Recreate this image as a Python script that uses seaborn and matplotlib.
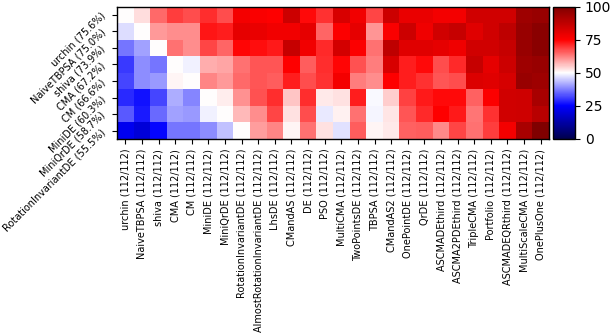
import numpy as np
import pandas as pd
import matplotlib
matplotlib.use("Agg")
import matplotlib.pyplot as plt
import matplotlib.transforms as mtransforms
import seaborn as sns

row_names = ["urchin (75.6%)", "NaiveTBPSA (75.0%)", "shiva (73.9%)", "CMA (67.2%)",
             "CM (66.6%)", "MiniDE (60.3%)", "MiniQrDE (58.7%)", "RotationInvariantDE (55.5%)"]
col_algos = ["urchin", "NaiveTBPSA", "shiva", "CMA", "CM", "MiniDE", "MiniQrDE",
             "RotationInvariantDE", "AlmostRotationInvariantDE", "LhsDE", "CMandAS", "DE",
             "PSO", "MultiCMA", "TwoPointsDE", "TBPSA", "CMandAS2", "OnePointDE", "QrDE",
             "ASCMADEthird", "ASCMA2PDEthird", "TripleCMA", "Portfolio", "ASCMADEQRthird",
             "MultiScaleCMA", "OnePlusOne"]
col_counts = ["(112/112)"] * len(col_algos)

urchin = [50, 53.5, 64.5, 69, 67.5, 70.5, 67.5, 77, 76, 75, 85, 74, 70, 82.5, 77.5, 68, 85, 79, 79, 77, 77, 84, 84, 84, 94, 95]
naivetbpsa = [46.7, 50, 60, 61, 61, 73, 72, 80, 79, 77.5, 77.5, 80, 65, 75.5, 80, 60.5, 76, 85, 78, 84, 86, 81, 84, 87.5, 95, 98]
shiva = [36.7, 40.7, 50, 63.7, 61, 68, 65, 74.5, 73.5, 72.5, 86, 77.5, 71, 83.5, 75.5, 63.7, 87.5, 81, 81, 80, 78, 84, 84, 86, 95, 98]
cma = [30.5, 38.7, 36.7, 50, 48.5, 58, 58.7, 63.7, 66.7, 66.7, 75, 66, 70.7, 74.5, 67, 62.5, 82.5, 72, 74, 67.5, 71, 86, 80, 85, 94, 95]
cm = [31.7, 38.7, 40, 51, 50, 62, 60, 64.5, 66.7, 66, 72, 67.5, 70, 77, 62.5, 61, 75, 72, 70, 66.5, 67.5, 82, 81, 83, 95, 94]
minide = [29, 26.7, 31.7, 42, 38.2, 50, 51.7, 60.7, 67, 70.5, 55.5, 70.5, 52, 53, 72, 49.5, 55, 68.5, 72.5, 74, 74, 65.5, 75.5, 84, 84.5, 92]
miniqrde = [33.7, 27.5, 35.5, 41, 40, 48.5, 50, 56.7, 61, 68, 53, 67.5, 47.7, 51.5, 64, 49, 52.5, 66.7, 71, 75, 72.5, 63.5, 70, 84, 84.5, 89]
rotinvde = [23, 19.6, 25.5, 36.7, 36.7, 38.7, 44, 50, 59.5, 62, 51, 63.7, 53, 47, 66, 51, 52, 65.5, 66, 61.5, 68, 64, 69, 77, 92, 100]

col_names = [f"{a} {c}" for a, c in zip(col_algos, col_counts)]
data = pd.DataFrame([urchin, naivetbpsa, shiva, cma, cm, minide, miniqrde, rotinvde],
                    index=row_names, columns=col_names)

W, H = 610, 334
fig = plt.figure(figsize=(W / 100, H / 100), dpi=100)
ax = fig.add_axes([117 / W, 1 - 139 / H, 432 / W, 132.5 / H])
cax = fig.add_axes([553 / W, 1 - 139 / H, 22 / W, 132.5 / H])

sns.heatmap(data, ax=ax, cbar_ax=cax, cmap="seismic", vmin=0, vmax=100,
            xticklabels=True, yticklabels=True,
            cbar_kws={"ticks": [0, 25, 50, 75, 100]})

for s in ax.spines.values():
    s.set_visible(True)
    s.set_color("black")
    s.set_linewidth(1.0)
cbar = ax.collections[0].colorbar
cbar.outline.set_visible(True)
cbar.outline.set_edgecolor("black")
cbar.outline.set_linewidth(1.0)
cbar.ax.tick_params(labelsize=10, length=3.5, width=0.8)

ax.tick_params(axis="both", length=3.5, width=0.8)
ax.set_xticklabels(col_names, rotation=90, fontsize=7)
ax.set_yticklabels(row_names, rotation=45, fontsize=7, va="top", ha="right")
offset = mtransforms.ScaledTranslation(0, 4 / 100, fig.dpi_scale_trans)
for lab in ax.get_yticklabels():
    lab.set_transform(lab.get_transform() + offset)
ax.set_xlabel("")
ax.set_ylabel("")

fig.savefig("out.png", dpi=100)
